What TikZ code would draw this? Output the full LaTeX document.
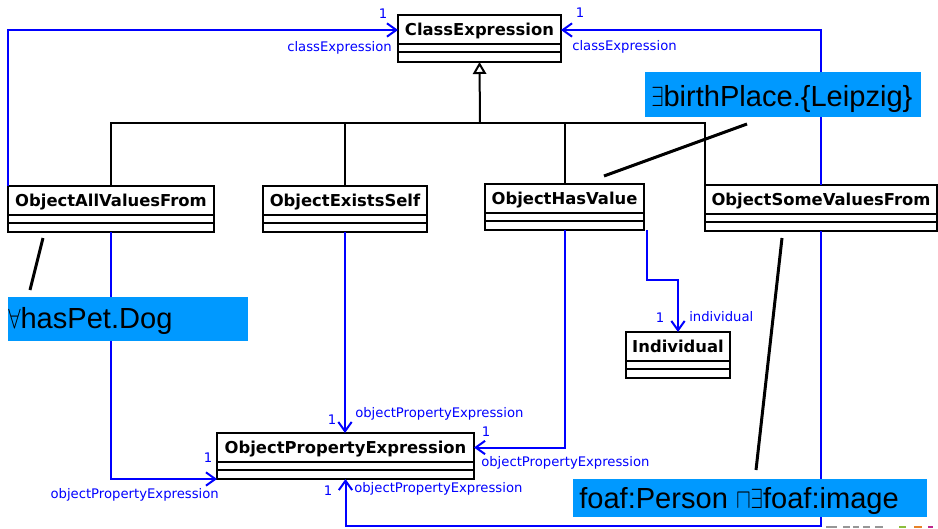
\documentclass[tikz,border=0pt]{standalone}
\usepackage{fontspec}
\setmainfont{DejaVu Sans}
\newfontfamily\calloutfont{Liberation Sans}
\usetikzlibrary{arrows.meta,fit,calc}

\definecolor{calloutblue}{RGB}{0,153,255}
\definecolor{assocblue}{RGB}{0,0,255}
\definecolor{markgrey}{RGB}{150,150,150}
\definecolor{markgreen}{RGB}{140,190,60}
\definecolor{markorange}{RGB}{230,130,40}
\definecolor{markmagenta}{RGB}{190,40,140}

% UML class: name, left, top, right, bottom, class name
\newcommand{\umlclass}[6]{%
  \node[classframe, fit={(#2,#3) (#4,#5)}] (#1) {};
  \draw[classline] (#2,#3+29) -- (#4,#3+29);
  \draw[classline] (#2,#3+37) -- (#4,#3+37);
  \coordinate (#1-title) at ({(#2+#4)/2},#3+14.5);
  \node[classname, anchor=base] (#1-name) at ({(#2+#4)/2},#3+20.5) {#6};
}
% narrowed logic symbols in the callouts
\newcommand{\narrow}[1]{\scalebox{0.8}[1]{#1}}

\begin{document}
\begin{tikzpicture}[x=0.75pt,y=-0.75pt,
  classframe/.style={draw=black, line width=1.5pt, fill=white, inner sep=0pt, outer sep=0pt},
  classline/.style={black, line width=1.5pt},
  classname/.style={font=\bfseries\fontsize{12.3}{14}\selectfont, inner sep=0pt},
  gen/.style={black, line width=1.5pt},
  genhead/.style={gen, -{Triangle[open, length=9pt, width=10pt, fill=white]}},
  assoc/.style={assocblue, line width=1.5pt, -{Straight Barb[length=7pt, width=10pt]}},
  role/.style={assocblue, font=\fontsize{9.9}{11}\selectfont, inner sep=0pt},
  callout/.style={fill=calloutblue, inner sep=0pt, outer sep=0pt},
  calloutline/.style={black, line width=2.25pt},
  callouttext/.style={font=\calloutfont\fontsize{21.8}{24}\selectfont, inner sep=0pt, anchor=base west},
]
\useasboundingbox (0,0) rectangle (938,528);

% classes
\umlclass{ce}{398}{15}{561}{62}{ClassExpression}
\umlclass{oavf}{8}{186}{214}{232}{ObjectAllValuesFrom}
\umlclass{oes}{263}{186}{427}{232}{ObjectExistsSelf}
\umlclass{ohv}{485}{184}{644}{230}{ObjectHasValue}
\umlclass{osvf}{705}{185}{937}{231}{ObjectSomeValuesFrom}
\umlclass{ind}{626}{332}{730}{378}{Individual}
\umlclass{ope}{217}{433}{474}{479}{ObjectPropertyExpression}

% generalisation tree
\coordinate (bus) at (480,123);
\coordinate (cetop) at (480,30);
\draw[gen] (oavf.north) |- (bus);
\draw[gen] (oes.north) |- (bus);
\draw[gen] (ohv.north) |- (bus);
\draw[gen] (osvf.north west) |- (bus);
\draw[genhead] (bus) -- (ce.south);

% associations
\draw[assoc] (oavf.north west) |- (ce.west |- cetop);
\draw[assoc] (osvf.north) |- (ce.east |- cetop);
\draw[assoc] (oavf.south) |- (ope.south west);
\draw[assoc] (oes.south) -- (oes.south |- ope.north);
\draw[assoc] (ohv.south) |- (ope-title -| ope.east);
\draw[assoc] ([xshift=2.25pt]ohv.south east) -- ++(0,50) -| (ind.north);
\draw[assoc] (osvf.south) -- ++(0,295) -| (ope.south);

% role names and multiplicities
\node[role] (m1) at (383,14) {1};
\node[role, anchor=east] (r1) at (392,48) {classExpression};
\node[role] (m2) at (580,13) {1};
\node[role, anchor=west] (r2) at (572,47) {classExpression};
\node[role] (m3) at (660,318) {1};
\node[role, anchor=west] (r3) at (689,317) {individual};
\node[role] (m4) at (332,420) {1};
\node[role, anchor=west] (r4) at (355,414) {objectPropertyExpression};
\node[role] (m5) at (486,432) {1};
\node[role, anchor=west] (r5) at (481,463) {objectPropertyExpression};
\node[role] (m6) at (208,458) {1};
\node[role, anchor=east] (r6) at (219,495) {objectPropertyExpression};
\node[role] (m7) at (328,491) {1};
\node[role, anchor=west] (r7) at (354,489) {objectPropertyExpression};

% example callouts
\node[callout, fit={(8,297) (248,341)}] (c1) {};
\node[callouttext] (c1t) at (8,328) {\narrow{$\forall$}hasPet.Dog};
\node[callout, fit={(645,72) (921,117)}] (c2) {};
\node[callouttext] (c2t) at (651,106) {\narrow{$\exists$}birthPlace.\{Leipzig\}};
\node[callout, fit={(573,479) (927,517)}] (c3) {};
\node[callouttext] (c3t) at (579,508) {foaf:Person \narrow{$\sqcap\exists$}foaf:image};

\coordinate (c1a) at (43,238);
\coordinate (c1b) at (30,290);
\coordinate (c2a) at (747,124);
\coordinate (c2b) at (604,176);
\coordinate (c3a) at (782,238);
\coordinate (c3b) at (756,470);
\draw[calloutline] (c1a) -- (c1b);
\draw[calloutline] (c2a) -- (c2b);
\draw[calloutline] (c3a) -- (c3b);

% colour marks along the lower edge
\fill[markgrey] (826,526) rectangle (837,528);
\fill[markgrey] (843,526) rectangle (850,528);
\fill[markgrey] (853,526) rectangle (859,528);
\fill[markgrey] (863,526) rectangle (870,528);
\fill[markgrey] (875,526) rectangle (883,528);
\fill[markgreen] (899,526) rectangle (906,528);
\fill[markorange] (914,526) rectangle (922,528);
\fill[markmagenta] (928,526) rectangle (933,528);
\end{tikzpicture}
\end{document}
